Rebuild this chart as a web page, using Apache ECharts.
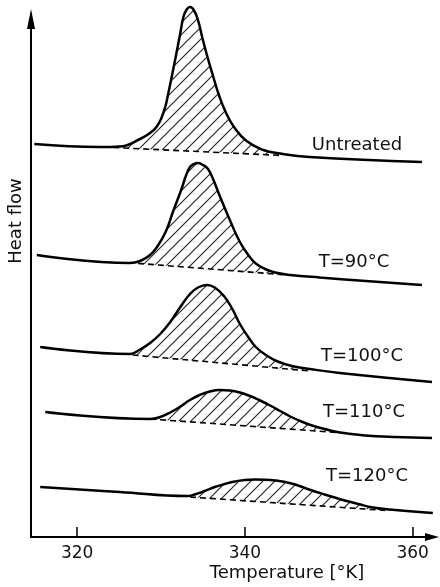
<!DOCTYPE html>
<html>
<head>
<meta charset="utf-8">
<script src="https://cdn.jsdelivr.net/npm/echarts@6/dist/echarts.min.js"></script>
<style>
html, body { margin: 0; padding: 0; background: #fff; }
#main { width: 440px; height: 587px; }
</style>
</head>
<body>
<div id="main"></div>
<script>
// temperature [K], heat flow (arbitrary units, curves offset vertically)
var untreated = [[314.9,393],[322.7,390],[325.1,390.5],[327.5,398],[329.0,406],[329.5,410.5],[330.0,418],[330.5,430],[330.8,441],[331.1,453],[331.7,478],[332.3,504],[332.7,521],[333.1,528],[333.45,530],[333.9,527],[334.4,517],[334.9,500],[335.5,481],[336.2,461],[336.9,442],[337.7,425],[338.7,410],[340.2,396],[342.2,387],[343.8,384],[347.7,380],[361.1,375]];
var t90 = [[315.2,282],[326.3,274],[327.5,276],[328.7,282],[329.6,291],[330.6,306],[331.5,327],[332.4,347],[333.0,362],[333.45,370],[333.9,373],[334.4,374],[334.9,372.5],[335.6,368],[336.3,356],[337.0,341],[338.2,317],[339.4,295],[340.4,282],[341.3,273.5],[342.4,268],[343.6,264.5],[345.4,262],[348.9,259.5],[361.1,252]];
var t100 = [[315.6,190],[326.3,183],[327.5,187.5],[328.7,194],[329.9,203],[331.1,215],[332.3,230],[333.45,243],[334.4,249.5],[335.5,252],[336.4,249.5],[337.5,241],[338.5,228],[339.4,213],[340.4,200],[341.3,190],[342.5,182],[343.9,175.5],[345.6,171],[347.75,168],[351.3,164],[362.3,155]];
var t110 = [[316.2,125],[328.7,118],[329.9,120],[331.1,124.5],[332.3,130.5],[333.45,137],[334.6,142],[335.8,145.5],[337.0,147],[338.2,146.5],[339.4,144.5],[340.6,141],[341.8,136.5],[343.0,131.5],[344.2,126],[345.4,120.5],[346.6,116],[348.0,111.5],[349.5,108],[350.7,105.5],[352.2,103.5],[354.3,101.5],[357.9,100],[362.3,99]];
var t120 = [[315.6,50],[325.1,45],[333.1,41],[334.0,42.5],[335.2,46],[336.4,50],[337.6,53],[338.8,55.5],[340.0,57],[341.2,57.5],[342.4,57.3],[343.6,56.5],[344.8,55],[346.0,52.5],[347.15,49],[348.35,45.5],[349.5,42.5],[350.7,39.5],[351.9,36.5],[353.5,33],[355.25,29.5],[357.9,27],[362.4,24]];

// dashed baselines under each peak (start, end)
var baseUntreated = [[324.3,389.5],[344.5,381.5]];
var base90 = [[327.25,273.6],[344.5,262.4]];
var base100 = [[326.6,182],[347.75,166]];
var base110 = [[328.7,118],[351.3,104.3]];
var base120 = [[333.45,40],[356.7,26.6]];

var curveNames = ['Untreated', 'T=90°C', 'T=100°C', 'T=110°C', 'T=120°C'];
var xTicks = [320, 340, 360];

var curves = [untreated, t90, t100, t110, t120];
var bases = [baseUntreated, base90, base100, base110, base120];
var labelPos = [[357,145],[354,262],[362,356],[364,412],[367,476]];

function hatch() {
    var c = document.createElement('canvas');
    c.width = 12; c.height = 12;
    var ctx = c.getContext('2d');
    ctx.strokeStyle = '#222';
    ctx.lineWidth = 1.1;
    ctx.beginPath();
    ctx.moveTo(-1, 13); ctx.lineTo(13, -1);
    ctx.moveTo(-1, 1); ctx.lineTo(1, -1);
    ctx.moveTo(11, 13); ctx.lineTo(13, 11);
    ctx.stroke();
    return c;
}
var pattern = hatch();

var font = 'DejaVu Sans';
function txt(s, x, y, rot) {
    return {
        type: 'text', x: x, y: y, rotation: rot || 0,
        style: {
            text: s, fill: '#111', fontSize: 18, fontFamily: font,
            align: 'center', verticalAlign: 'middle',
            textAlign: 'center', textVerticalAlign: 'middle'
        }
    };
}

var series = [];
curves.forEach(function (c, i) {
    series.push({
        type: 'line', data: c, smooth: 0.45, symbol: 'none', clip: false, z: 3,
        lineStyle: { color: '#000', width: 2.5 }
    });
    series.push({
        type: 'line', data: bases[i], symbol: 'none', clip: false, z: 2,
        lineStyle: { color: '#000', width: 1.6, type: [6, 4] }
    });
});
series.push({
    type: 'custom',
    clip: false,
    z: 1,
    data: bases.map(function (b, i) { return [b[0][0], b[0][1], i]; }),
    renderItem: function (params, api) {
        var i = api.value(2);
        var b = bases[i];
        var pts = [api.coord(b[0])];
        curves[i].forEach(function (p) {
            if (p[0] > b[0][0] && p[0] < b[1][0]) pts.push(api.coord(p));
        });
        pts.push(api.coord(b[1]));
        return {
            type: 'polygon',
            shape: { points: pts },
            style: { fill: { image: pattern, repeat: 'repeat' }, stroke: null }
        };
    }
});

var chart = echarts.init(document.getElementById('main'));
var option = {
    animation: false,
    backgroundColor: '#fff',
    grid: { left: 31, right: 8, top: 19, bottom: 50 },
    xAxis: {
        type: 'value',
        min: 314.5,
        max: 362.3,
        axisLine: {
            lineStyle: { color: '#000', width: 2 },
            symbol: ['none', 'triangle'],
            symbolSize: [8, 14]
        },
        axisTick: {
            inside: true, length: 10, customValues: xTicks,
            lineStyle: { color: '#000', width: 1.5 }
        },
        axisLabel: { customValues: xTicks, color: '#111', fontSize: 17, fontFamily: font, margin: 8 },
        splitLine: { show: false }
    },
    yAxis: {
        type: 'value',
        min: 0,
        max: 518,
        axisLine: {
            show: true,
            lineStyle: { color: '#000', width: 2 },
            symbol: ['none', 'triangle'],
            symbolSize: [8, 20]
        },
        axisTick: { show: false },
        axisLabel: { show: false },
        splitLine: { show: false }
    },
    graphic: curveNames.map(function (n, i) {
        return txt(n, labelPos[i][0], labelPos[i][1]);
    }).concat([
        txt('Heat flow', 16, 221, Math.PI / 2),
        txt('Temperature [°K]', 287, 573)
    ]),
    series: series
};
chart.setOption(option);
</script>
</body>
</html>
